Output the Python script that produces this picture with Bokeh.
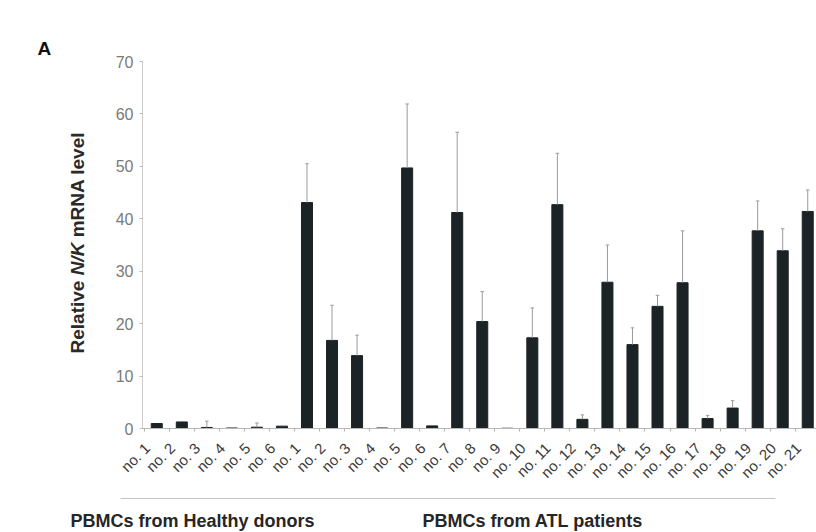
import math
from bokeh.plotting import figure
from bokeh.layouts import row, column
from bokeh.models import ColumnDataSource, Range1d, FixedTicker
from bokeh.core.properties import value
from bokeh.embed import file_html
from bokeh.resources import INLINE

# ---- data ----
healthy_labels = ["no. 1", "no. 2", "no. 3", "no. 4", "no. 5", "no. 6"]
healthy_vals = [0.95, 1.25, 0.2, 0.1, 0.25, 0.45]
healthy_sd = [0.0, 0.0, 1.2, 0.0, 0.8, 0.0]

atl_labels = ["no. %d" % i for i in range(1, 22)]
atl_vals = [43.1, 16.8, 13.9, 0.1, 49.7, 0.5, 41.2, 20.4, 0.05, 17.3, 42.7,
            1.75, 27.9, 16.0, 23.3, 27.8, 1.9, 3.9, 37.7, 33.9, 41.4]
atl_sd = [7.4, 6.7, 3.9, 0.0, 12.2, 0.0, 15.3, 5.7, 0.0, 5.7, 9.8,
          0.85, 7.1, 3.2, 2.1, 9.9, 0.6, 1.4, 5.7, 4.2, 4.1]

y_ticks = [0, 10, 20, 30, 40, 50, 60, 70]
group_titles = ["PBMCs from Healthy donors", "PBMCs from ATL patients"]
ylabel_parts = ["Relative\u00a0", "N/K", "\u00a0mRNA level"]
panel_letter = "A"

labels = healthy_labels + atl_labels
vals = healthy_vals + atl_vals
sds = healthy_sd + atl_sd
xs = list(range(len(labels)))

FONT = "Liberation Sans"
BAR = "#1b2326"

W, H_MAIN, H_BOT, W_LEFT = 816, 490, 42, 100


def blank(width, height):
    f = figure(width=width, height=height, output_backend="svg", toolbar_location=None,
               x_range=Range1d(0, width), y_range=Range1d(height, 0),
               x_axis_location=None, y_axis_location=None,
               min_border=0, min_border_left=0, min_border_right=0,
               min_border_top=0, min_border_bottom=0)
    f.frame_align = False
    f.outline_line_color = None
    f.grid.visible = False
    f.border_fill_color = "white"
    f.background_fill_color = "white"
    return f


# ---------------- main chart ----------------
x0, x1 = -0.57, 26.35
p = figure(width=W - W_LEFT, height=H_MAIN, output_backend="svg", toolbar_location=None,
           x_range=Range1d(x0, x1), y_range=Range1d(0, 70),
           min_border_left=142 - W_LEFT, min_border_right=0, min_border_top=61,
           min_border_bottom=H_MAIN - 61 - 376)
p.frame_align = False
p.outline_line_color = None
p.grid.visible = False
p.background_fill_color = "white"
p.border_fill_color = "white"

src = ColumnDataSource(dict(x=xs, top=vals))
p.vbar(x="x", top="top", bottom=0, width=0.44, source=src,
       fill_color=BAR, line_color=BAR)

ex = [x for x, s in zip(xs, sds) if s > 0]
eb = [v for v, s in zip(vals, sds) if s > 0]
et = [v + s for v, s in zip(vals, sds) if s > 0]
esrc = ColumnDataSource(dict(x=ex, y0=eb, y1=et,
                             xl=[x - 0.07 for x in ex], xr=[x + 0.07 for x in ex]))
p.segment(x0="x", y0="y0", x1="x", y1="y1", source=esrc,
          line_color="#9a9a9a", line_width=1)
p.segment(x0="xl", y0="y1", x1="xr", y1="y1", source=esrc,
          line_color="#9a9a9a", line_width=1)

# x axis: labels sit slightly left of each bar, small ticks between bars
label_pos = [x - 0.38 for x in xs]
xa = p.xaxis[0]
xa.ticker = FixedTicker(ticks=label_pos, minor_ticks=[x + 0.5 for x in range(-1, len(xs))])
xa.major_label_overrides = {lp: l for lp, l in zip(label_pos, labels)}
xa.major_label_orientation = math.pi / 4
xa.major_label_text_font = FONT
xa.major_label_text_font_size = "15px"
xa.major_label_text_color = "#3a3a3a"
xa.major_tick_line_color = None
xa.minor_tick_line_color = "#b0b0b0"
xa.minor_tick_out = 3
xa.minor_tick_in = 0
xa.axis_line_color = "#b8b8b8"
xa.major_label_standoff = 11

# y axis
ya = p.yaxis[0]
ya.ticker = FixedTicker(ticks=y_ticks)
ya.minor_tick_line_color = None
ya.major_tick_out = 3
ya.major_tick_in = 0
ya.major_tick_line_color = "#bbbbbb"
ya.axis_line_color = "#cccccc"
ya.major_label_text_font = FONT
ya.major_label_text_font_size = "16px"
ya.major_label_text_color = "#7a7a7a"
ya.major_label_standoff = 6

# ---------------- left strip: panel letter + y title ----------------
left = blank(W_LEFT, H_MAIN)
left.text(x=[37], y=[48], text=[panel_letter], text_font=value(FONT),
          text_font_style="bold", text_font_size="19px", text_color="#111111",
          text_align="left", text_baseline="alphabetic")
fs = 19
ems = [4.113, 1.722, 5.835]          # advance widths in em (Arial-metric bold)
styles = ["bold", "bold italic", "bold"]
cur = 353
for txt, st, em in zip(ylabel_parts, styles, ems):
    left.text(x=[77], y=[cur], text=[txt], angle=math.pi / 2, text_font=value(FONT),
              text_font_style=st, text_font_size="%dpx" % fs, text_color="#2a2a2a",
              text_align="left", text_baseline="middle")
    cur -= em * fs

# ---------------- bottom strip: separator + group titles ----------------
bot = blank(W, H_BOT)
bot.segment(x0=[120], y0=[8], x1=[775], y1=[8], line_color="#c4c4c4", line_width=1)
bot.text(x=[70, 422], y=[30, 30], text=group_titles, text_font=value(FONT),
         text_font_style="bold", text_font_size="18px", text_color="#262626",
         text_align="left", text_baseline="alphabetic")

layout = column(row(left, p, spacing=0), bot, spacing=0)
open("out.html", "w").write(file_html(layout, INLINE))
